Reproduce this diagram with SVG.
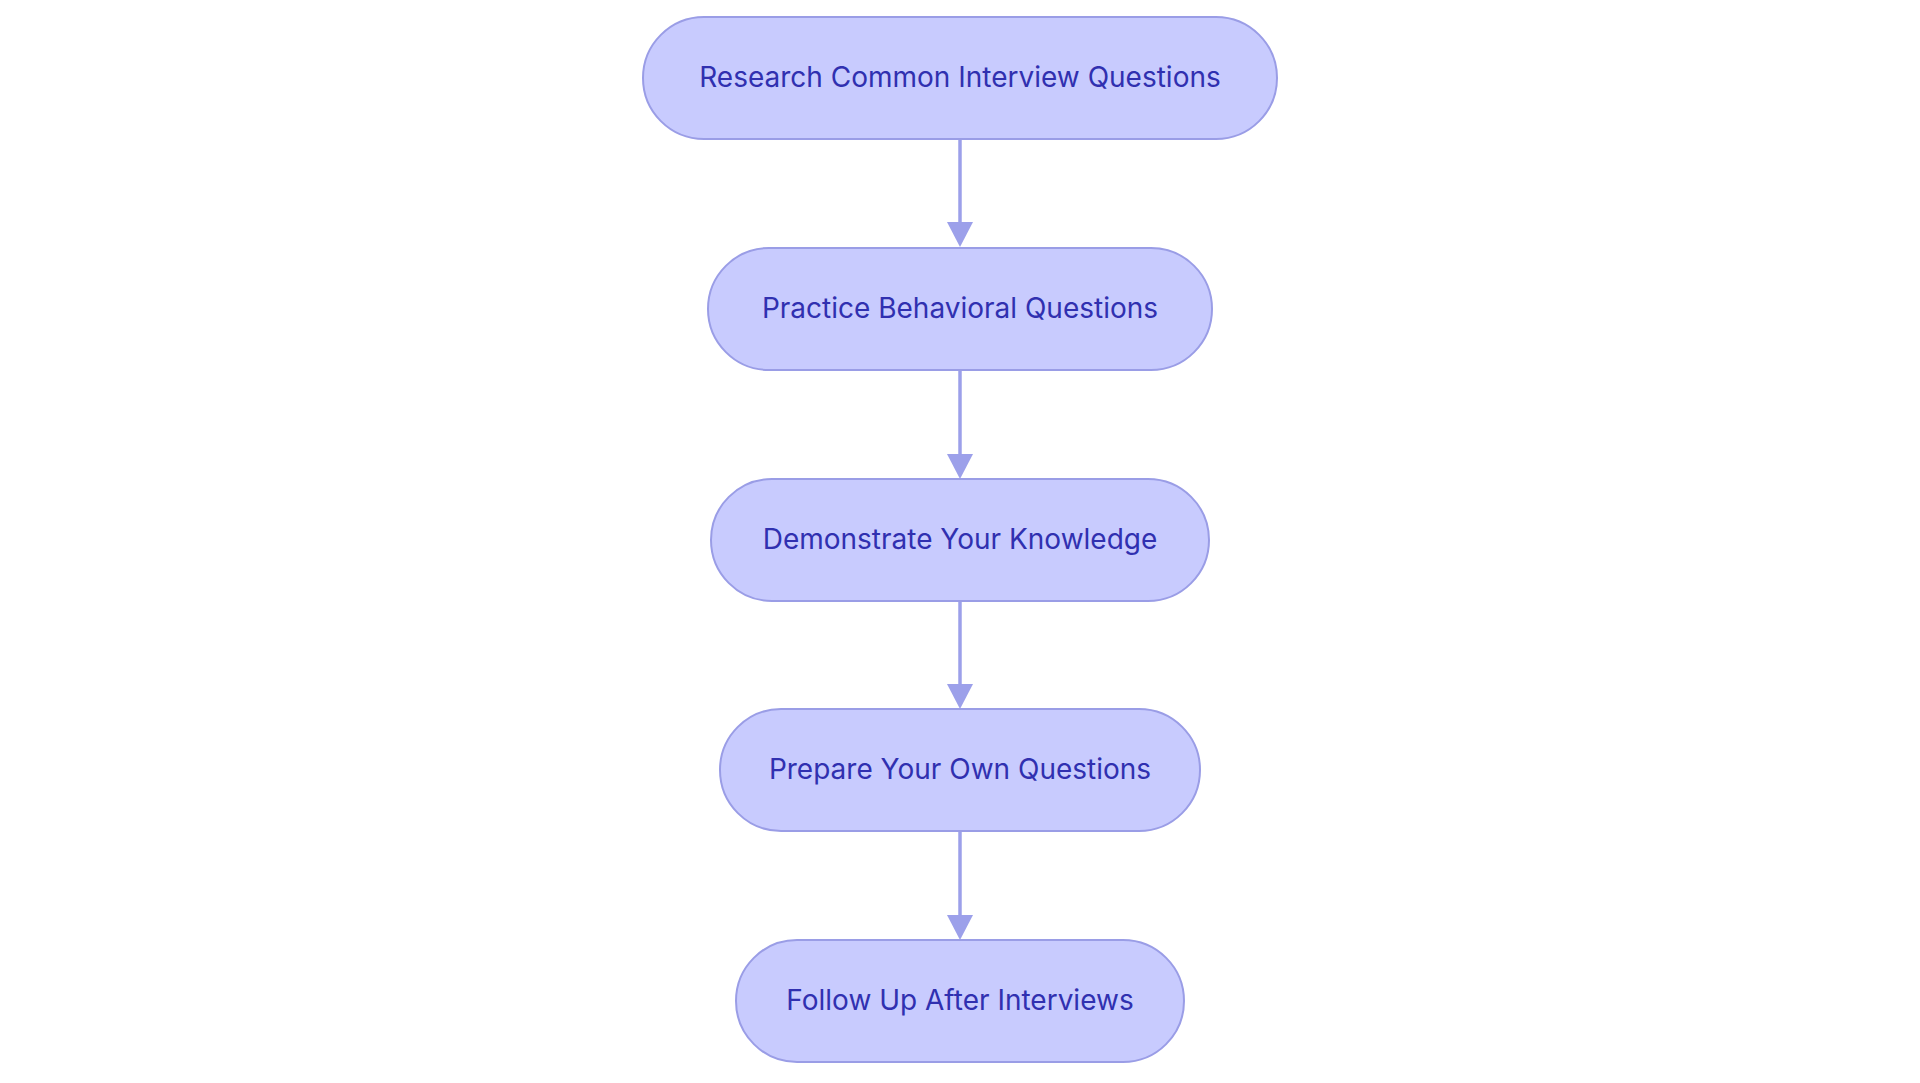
<svg xmlns="http://www.w3.org/2000/svg" width="1920" height="1083" viewBox="0 0 1920 1083">
<style>
.n rect{fill:#c8cbfe;stroke:#9a9de6;stroke-width:2}
.n text{font-family:Inter,"Noto Sans",sans-serif;font-size:28px;fill:#3030b0;text-anchor:middle;dominant-baseline:central}
.c line{stroke:#9ca0ea;stroke-width:3.5}
</style>
<defs><marker id="a" markerWidth="10" markerHeight="10" refX="8" refY="5" orient="auto" markerUnits="userSpaceOnUse" viewBox="0 0 10 10"><path d="M0,0L10,5L0,10z" fill="#9ca0ea"/></marker></defs>
<rect width="1920" height="1083" fill="#fff"/>
<g class="c">
<line x1="960" y1="140" x2="960" y2="222"/><path d="M947,222h26l-13,25z" fill="#9ca0ea"/>
<line x1="960" y1="370" x2="960" y2="454"/><path d="M947,454h26l-13,25z" fill="#9ca0ea"/>
<line x1="960" y1="600" x2="960" y2="684"/><path d="M947,684h26l-13,25z" fill="#9ca0ea"/>
<line x1="960" y1="831" x2="960" y2="915"/><path d="M947,915h26l-13,25z" fill="#9ca0ea"/>
</g>
<g id="n1" class="n"><rect x="643" y="17" width="634" height="122" rx="61"/><text x="960" y="77">Research Common Interview Questions</text></g>
<g id="n2" class="n"><rect x="708" y="248" width="504" height="122" rx="61"/><text x="960" y="308">Practice Behavioral Questions</text></g>
<g id="n3" class="n"><rect x="711" y="479" width="498" height="122" rx="61"/><text x="960" y="539">Demonstrate Your Knowledge</text></g>
<g id="n4" class="n"><rect x="720" y="709" width="480" height="122" rx="61"/><text x="960" y="769">Prepare Your Own Questions</text></g>
<g id="n5" class="n"><rect x="736" y="940" width="448" height="122" rx="61"/><text x="960" y="1000">Follow Up After Interviews</text></g>
</svg>
